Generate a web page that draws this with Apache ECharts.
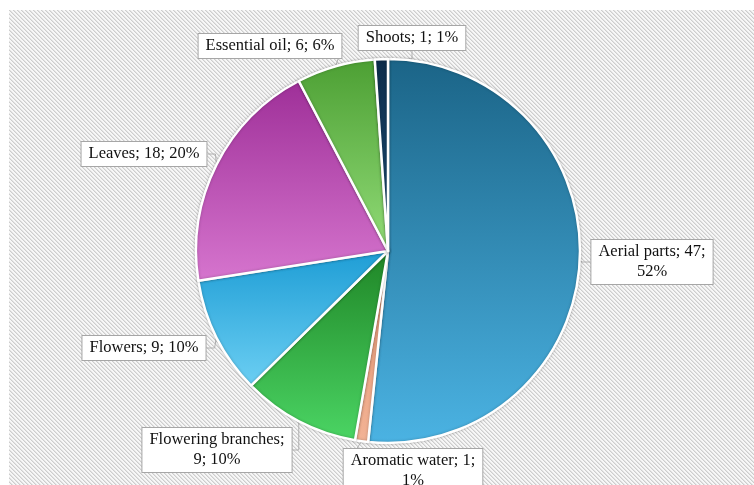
<!DOCTYPE html>
<html><head><meta charset="utf-8">
<script src="https://cdn.jsdelivr.net/npm/echarts@6/dist/echarts.min.js"></script>
<style>html,body{margin:0;padding:0;background:#fff}#c{width:754px;height:485px}</style>
</head><body><div id="c"></div>
<script>
const categories = ['Aerial parts','Aromatic water','Flowering branches','Flowers','Leaves','Essential oil','Shoots'];
const values = [47, 1, 9, 9, 18, 6, 1];
const percents = ['52%','1%','10%','10%','20%','6%','1%'];
const labelTexts = ['Aerial parts; 47;\n52%','Aromatic water; 1;\n1%','Flowering branches;\n9; 10%','Flowers; 9; 10%','Leaves; 18; 20%','Essential oil; 6; 6%','Shoots; 1; 1%'];

const colorStops = [
  ['#1b6487','#4bb3e3'],
  ['#e4926e','#f2b395'],
  ['#1f8526','#4bd564'],
  ['#1e9dd5','#6ccff3'],
  ['#9e2f98','#d675ce'],
  ['#4c9f33','#92dc78'],
  ['#0c2c4a','#1d4f78']
];
const labelPos = [[652,262],[413,471],[217,450],[144,348],[144,154],[270,46],[412,38]];

// hatched background pattern
const pc = document.createElement('canvas');
pc.width = 4; pc.height = 4;
const pctx = pc.getContext('2d');
pctx.fillStyle = '#f7f7f7'; pctx.fillRect(0,0,4,4);
for (let i = 0; i < 4; i++) {
  pctx.fillStyle = '#cdcdcd'; pctx.fillRect(i, i, 1, 1);
  pctx.fillStyle = '#e3e3e3'; pctx.fillRect((i+1)%4, i, 1, 1);
}

const chart = echarts.init(document.getElementById('c'), null, {renderer:'canvas'});
chart.setOption({
  animation: false,
  graphic: [{
    type: 'rect', left: 9, top: 10, z: -10,
    shape: {width: 745, height: 475},
    style: {fill: {image: pc, repeat: 'repeat'}}
  }],
  series: [{
    type: 'pie',
    center: [388, 251],
    radius: [0, 192],
    startAngle: 90,
    clockwise: true,
    avoidLabelOverlap: false,
    data: categories.map((n, i) => ({
      name: n, value: values[i],
      itemStyle: {color: {type:'linear', x:0, y:0, x2:0, y2:1, colorStops:[{offset:0,color:colorStops[i][0]},{offset:1,color:colorStops[i][1]}]}}
    })),
    itemStyle: {borderColor: '#ffffff', borderWidth: 2.5, shadowColor: 'rgba(0,0,0,0.25)', shadowBlur: 3},
    label: {
      show: true,
      formatter: p => labelTexts[p.dataIndex],
      fontFamily: 'Liberation Serif',
      fontSize: 16.5,
      lineHeight: 20,
      color: '#111',
      backgroundColor: '#ffffff',
      borderColor: '#a6a6a6',
      borderWidth: 1,
      padding: [2, 7, 2, 7],
      align: 'center'
    },
    labelLine: {show: true, length: 8, length2: 8, lineStyle: {color: '#b0b0b0', width: 1}},
    labelLayout: function (params) {
      const p = labelPos[params.dataIndex];
      return {x: p[0], y: p[1], align: 'center', verticalAlign: 'middle'};
    }
  }]
});
</script></body></html>
